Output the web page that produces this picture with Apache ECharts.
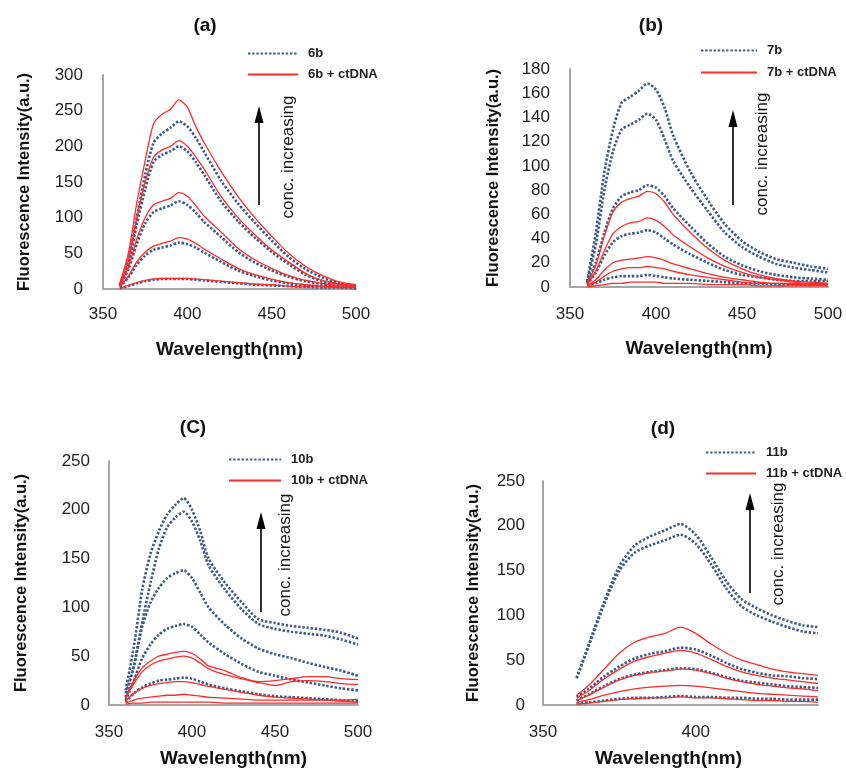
<!DOCTYPE html>
<html>
<head>
<meta charset="utf-8">
<script src="https://cdn.jsdelivr.net/npm/echarts@6/dist/echarts.min.js"></script>
<style>
html,body{margin:0;padding:0;background:#fff;}
#chart{width:847px;height:769px;}
</style>
</head>
<body>
<div id="chart"></div>
<script>
// Wavelength grids (nm)
const wlABC = [360,365,370,375,380,385,390,395,400,405,410,420,430,440,450,460,470,480,490,500];
const wlD = [361,365,370,375,380,385,390,395,400,405,410,415,420,425,430,435,440];

// Panel (a) 6b
const aB1 = [6,40,100,160,205,218,226,235,228,212,192,152,120,93,68,45,28,16,8,4];
const aB2 = [5,35,90,140,178,188,193,200,193,178,160,123,95,72,52,35,20,11,6,4];
const aB3 = [4,27,63,92,108,113,117,123,118,107,94,73,52,37,26,17,11,7,4,3];
const aB4 = [3,16,34,47,55,58,61,65,63,58,51,38,26,18,12,8,5,4,3,2];
const aB5 = [1,4,8,11,13,14,14,14,14,13,12,10,8,6,5,4,3,2,2,1];
const aR1 = [8,50,120,180,232,245,252,265,255,228,205,165,130,100,74,50,32,19,10,6];
const aR2 = [6,40,100,150,185,195,200,208,200,185,168,130,100,76,55,38,22,12,7,5];
const aR3 = [5,30,70,100,118,123,127,135,130,117,102,80,57,41,29,19,12,8,5,3];
const aR4 = [3,18,38,52,60,64,67,72,70,64,56,42,29,20,14,9,6,4,3,2];
const aR5 = [1,5,9,12,14,15,15,15,15,14,13,11,9,7,6,4,3,3,2,2];

// Panel (b) 7b
const bB1 = [5,45,95,130,152,157,162,168,163,148,125,95,72,52,38,29,23,20,17,15];
const bB2 = [4,35,80,112,130,134,138,143,138,122,104,82,63,45,33,25,19,16,14,12];
const bB3 = [3,20,45,65,75,78,80,84,82,75,65,50,36,25,18,13,10,8,7,6];
const bB4 = [2,12,26,37,42,44,45,47,45,40,35,27,20,14,10,8,6,5,5,5];
const bB5 = [1,3,6,8,9,9,9,10,9,8,7,6,5,4,3,3,2,2,2,2];
const bR1 = [3,18,42,62,70,73,75,79,77,70,60,45,32,22,15,10,7,5,4,3];
const bR2 = [2,13,30,44,50,53,54,57,55,50,43,33,24,17,12,8,6,4,3,3];
const bR3 = [1,6,14,20,22,23,24,25,24,22,19,15,11,8,6,4,3,3,2,2];
const bR4 = [1,4,9,13,15,16,16,17,16,15,13,10,8,6,4,3,3,2,2,2];
const bR5 = [0,1,2,3,3,4,4,4,4,3,3,3,2,2,2,1,1,1,1,1];

// Panel (c) 10b
const cB1 = [15,60,118,155,178,195,205,212,200,178,150,125,105,88,84,81,79,77,74,68];
const cB2 = [12,40,85,125,160,182,192,198,188,168,143,118,98,83,78,75,73,71,67,62];
const cB3 = [8,40,80,105,120,130,135,138,130,115,100,82,68,58,52,48,43,39,35,30];
const cB4 = [5,25,48,62,72,78,81,83,80,72,64,52,42,34,30,26,23,20,17,15];
const cB5 = [3,12,18,22,25,26,27,28,27,24,21,17,14,11,9,8,7,6,5,4];
const cR1 = [8,25,38,45,50,52,54,55,53,47,40,35,28,24,25,27,29,29,27,26];
const cR2 = [7,22,34,41,45,47,49,50,48,43,37,31,27,23,20,24,25,24,22,21];
const cR3 = [4,12,17,20,22,23,24,24,23,21,19,16,13,10,8,7,6,5,4,3];
const cR4 = [2,5,7,8,9,10,10,11,10,9,8,7,6,5,5,5,5,5,5,6];
const cR5 = [1,2,2,3,3,3,3,3,3,3,3,2,2,2,2,2,2,2,2,2];

// Panel (d) 11b
const dB1 = [30,68,115,155,178,188,195,202,190,165,138,118,108,100,94,89,87];
const dB2 = [30,66,112,150,170,178,184,190,180,157,130,110,100,93,87,82,80];
const dB3 = [9,18,32,43,52,57,60,64,62,55,47,40,36,33,32,30,29];
const dB4 = [5,12,21,29,34,37,39,41,40,36,31,27,25,23,21,20,19];
const dB5 = [2,3,5,7,8,8,9,10,9,9,8,8,7,7,6,6,6];
const dR1 = [11,22,40,58,70,76,80,87,80,68,58,50,45,40,37,35,33];
const dR2 = [8,16,29,40,49,54,58,61,58,51,43,37,33,30,28,26,24];
const dR3 = [5,11,20,28,33,36,38,40,39,35,30,26,23,21,19,18,16];
const dR4 = [3,6,11,15,18,20,21,22,21,19,17,15,13,12,11,10,9];
const dR5 = [1,2,4,6,7,8,8,9,8,8,7,6,5,5,4,4,3];

const panelTitles = ['(a)','(b)','(C)','(d)'];
const compounds = ['6b','7b','10b','11b'];
const yTitle = 'Fluorescence Intensity(a.u.)';
const xTitle = 'Wavelength(nm)';
const arrowText = 'conc. increasing';

const FONT = 'Liberation Sans, Arial, sans-serif';
const BLUE = '#3d5a87';
const RED = '#ff2a2a';

const panels = [
  {wl: wlABC, blue:[aB1,aB2,aB3,aB4,aB5], red:[aR1,aR2,aR3,aR4,aR5]},
  {wl: wlABC, blue:[bB1,bB2,bB3,bB4,bB5], red:[bR1,bR2,bR3,bR4,bR5]},
  {wl: wlABC, blue:[cB1,cB2,cB3,cB4,cB5], red:[cR1,cR2,cR3,cR4,cR5]},
  {wl: wlD,   blue:[dB1,dB2,dB3,dB4,dB5], red:[dR1,dR2,dR3,dR4,dR5]}
];

// layout (pixels)
const grids = [
  {left:103, top:75, width:253, height:214},
  {left:570, top:69, width:258, height:218},
  {left:109, top:461, width:249, height:244},
  {left:543, top:481, width:275, height:226}
];
const yMax = [300,180,250,250];
const yInt = [50,20,50,50];
const xMax = [500,500,500,440];
const yNameGap = [70,68,79,61];
const xNameGap = [51,52,44,44];
const xLabelMargin = [17,19,19,19];
const yLabelMargin = [20,20,19,18];
const legendPos = [
  {left:247, top:47, w:50, gap:8},
  {left:700, top:44, w:56, gap:9},
  {left:228, top:453, w:52, gap:8},
  {left:705, top:446, w:50, gap:8}
];
const titlePos = [[205,26],[651,26],[193,428],[663,429]];
const arrows = [ // x, tipY, bottomY
  [259,106,205],[733,110,205],[261,512,612],[750,493,593]
];
const arrowTextPos = [[288,157],[762,154],[285,555],[778,544]];

const series = [];
panels.forEach((p, i) => {
  p.blue.forEach(arr => {
    series.push({
      type:'line', name: compounds[i], xAxisIndex:i, yAxisIndex:i,
      data: p.wl.map((w,k)=>[w, arr[k]]),
      symbol:'none', smooth:0.25, z:2,
      lineStyle:{color:BLUE, width:2.6, type:[2.4,1.8], cap:'butt'},
      itemStyle:{color:BLUE}
    });
  });
  p.red.forEach(arr => {
    series.push({
      type:'line', name: compounds[i] + ' + ctDNA', xAxisIndex:i, yAxisIndex:i,
      data: p.wl.map((w,k)=>[w, arr[k]]),
      symbol:'none', smooth:0.25, z:3,
      lineStyle:{color:RED, width:1.3},
      itemStyle:{color:RED}
    });
  });
});

const axisLine = {show:true, lineStyle:{color:'#a6a6a6', width:2}};
const xAxes = grids.map((g,i)=>({
  type:'value', gridIndex:i, min:350, max:xMax[i], interval:50,
  axisLine: axisLine, axisTick:{show:false}, splitLine:{show:false},
  axisLabel:{color:'#1e1e1e', fontSize:17, fontFamily:FONT, margin:xLabelMargin[i],
    showMaxLabel: xMax[i] % 50 === 0},
  name: xTitle, nameLocation:'middle', nameGap:xNameGap[i],
  nameTextStyle:{fontSize:19, fontWeight:'bold', fontFamily:FONT, color:'#111',
    padding: i===3 ? [0,24,0,0] : 0}
}));
const yAxes = grids.map((g,i)=>({
  type:'value', gridIndex:i, min:0, max:yMax[i], interval:yInt[i],
  axisLine: axisLine, axisTick:{show:false}, splitLine:{show:false},
  axisLabel:{color:'#1e1e1e', fontSize:17, fontFamily:FONT, margin:yLabelMargin[i]},
  name: yTitle, nameLocation:'middle', nameGap:yNameGap[i], nameRotate:90,
  nameTextStyle:{fontSize:16.5, fontWeight:'bold', fontFamily:FONT, color:'#111'}
}));

const legends = legendPos.map((l,i)=>({
  orient:'vertical', left:l.left, top:l.top, padding:0,
  itemWidth:l.w, itemHeight:10, itemGap:l.gap,
  data:[compounds[i], compounds[i] + ' + ctDNA'],
  itemStyle:{opacity:0, color:'transparent', borderWidth:0},
  textStyle:{fontSize:13, fontWeight:'bold', fontFamily:FONT, color:'#222', padding:[0,0,0,5]},
  selectedMode:false
}));

const graphic = [];
titlePos.forEach((t,i)=>{
  graphic.push({type:'text', x:t[0], y:t[1], style:{text:panelTitles[i], font:'bold 19px ' + FONT,
    fill:'#111', align:'center', verticalAlign:'middle'}});
});
arrows.forEach(a=>{
  graphic.push({type:'line', shape:{x1:a[0], y1:a[2], x2:a[0], y2:a[1]+12}, style:{stroke:'#000', lineWidth:1.6}});
  graphic.push({type:'polygon', shape:{points:[[a[0],a[1]],[a[0]-4.5,a[1]+17],[a[0]+4.5,a[1]+17]]}, style:{fill:'#000'}});
});
arrowTextPos.forEach(t=>{
  graphic.push({type:'text', x:t[0], y:t[1], rotation:Math.PI/2,
    style:{text:arrowText, font:'17px ' + FONT, fill:'#111', align:'center', verticalAlign:'middle'}});
});

const chart = echarts.init(document.getElementById('chart'), null, {renderer:'canvas'});
chart.setOption({
  backgroundColor:'#fff',
  animation:false,
  grid: grids.map(g=>Object.assign({containLabel:false}, g)),
  xAxis: xAxes,
  yAxis: yAxes,
  legend: legends,
  series: series,
  graphic: graphic
});
</script>
</body>
</html>
